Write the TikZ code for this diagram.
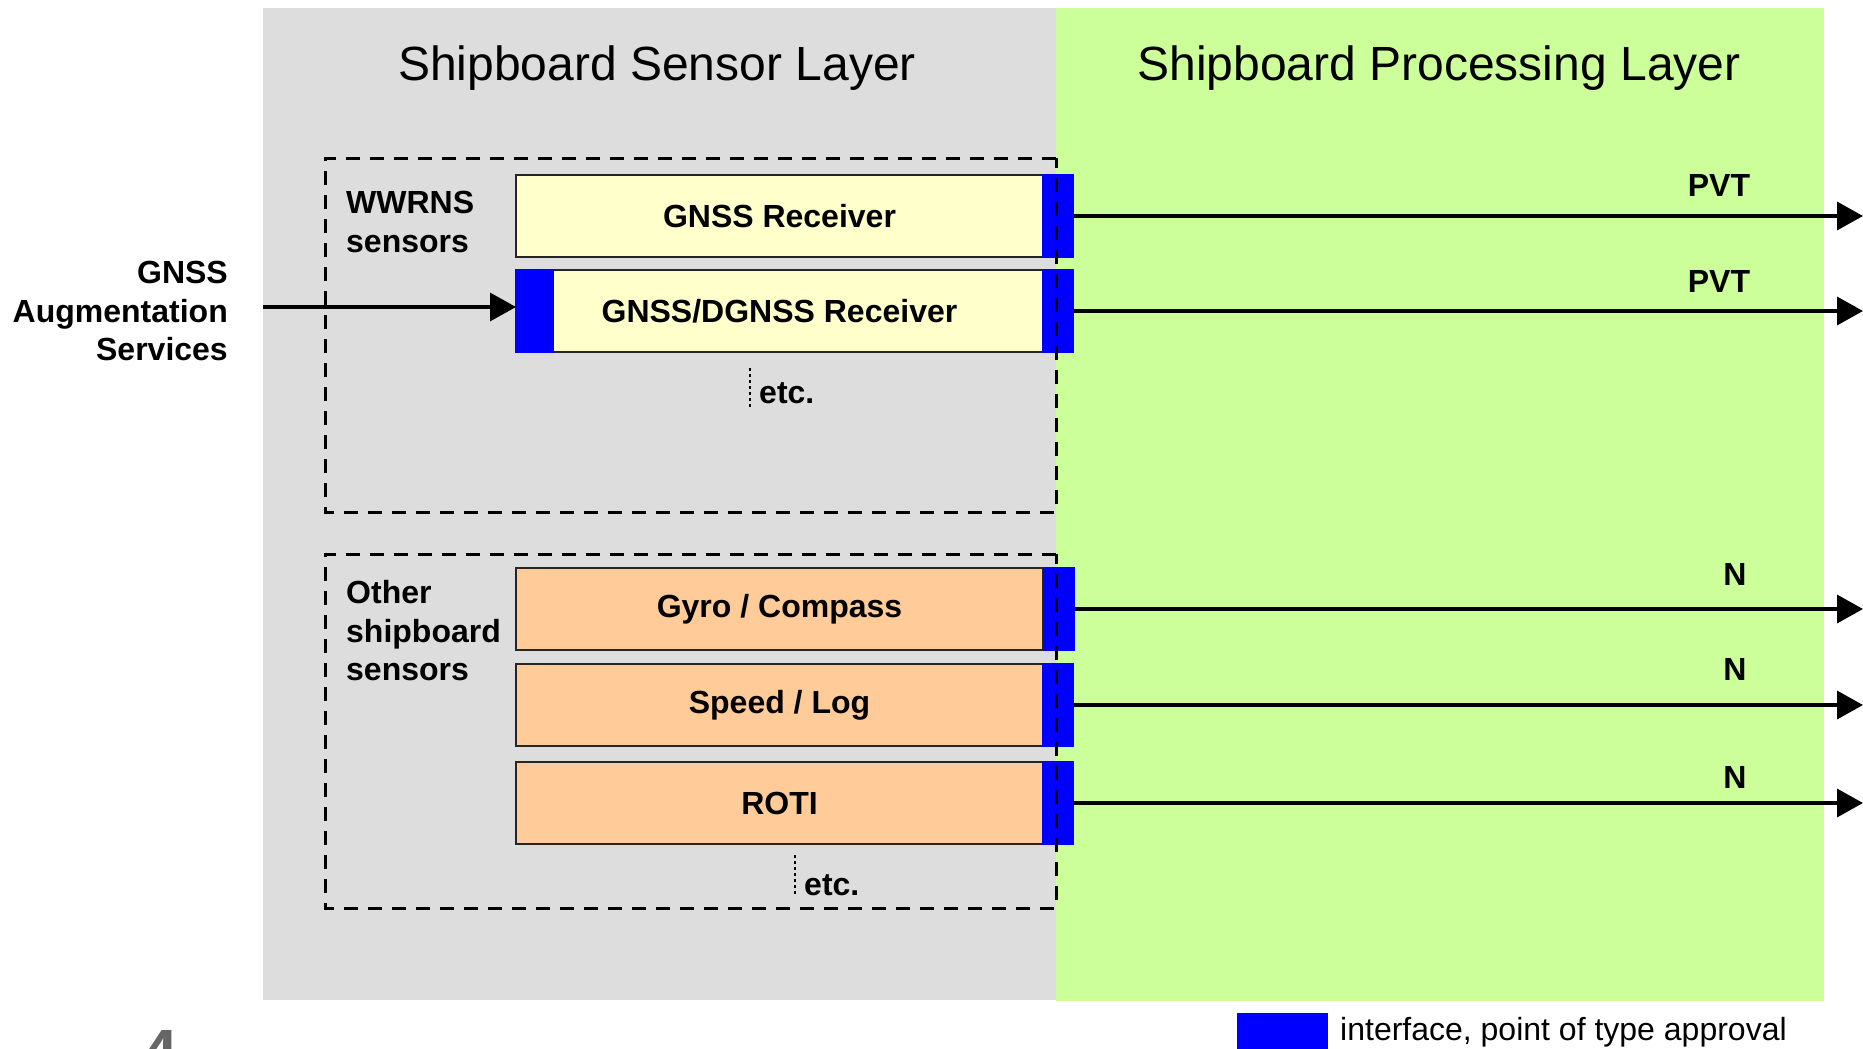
\documentclass[tikz,border=0pt]{standalone}
\usepackage{fontspec}
\setmainfont{Liberation Sans}
\usetikzlibrary{arrows.meta}
\definecolor{sensorgrey}{HTML}{DDDDDD}
\definecolor{procgreen}{HTML}{CCFF99}
\definecolor{wwrnsfill}{HTML}{FFFFCC}
\definecolor{otherfill}{HTML}{FFCC99}
\definecolor{ifblue}{HTML}{0000FF}

\begin{document}
\begin{tikzpicture}[x=1pt,y=-1pt,
  lbl/.style={font=\fontsize{32}{38.5}\selectfont\bfseries, inner sep=0pt},
  layertitle/.style={font=\fontsize{48}{56}\selectfont, inner sep=0pt},
  sensorbox/.style={draw=black!85, line width=2pt, minimum width=527pt,
    minimum height=82pt, anchor=north west, inner sep=0pt, outer sep=0pt,
    font=\fontsize{32}{38}\selectfont\bfseries},
  ybox/.style={sensorbox, fill=wwrnsfill},
  obox/.style={sensorbox, fill=otherfill},
  iface/.style={fill=ifblue, draw=none, inner sep=0pt, outer sep=0pt,
    minimum width=32pt, minimum height=84pt, anchor=north west},
  group/.style={draw=black, line width=3pt, dash pattern=on 14pt off 10pt},
  flow/.style={line width=3.5pt, -{Triangle[length=26pt,width=28pt]}},
  etcline/.style={line width=2.5pt, dash pattern=on 3pt off 3pt},
]
\useasboundingbox (0,0) rectangle (1863,1049);
\fill[white] (0,0) rectangle (1863,1049);

% layer backgrounds
\fill[sensorgrey] (263,8) rectangle (1056,1000);
\fill[procgreen] (1056,8) rectangle (1824,1001);

% layer titles
\node[layertitle] (senstitle) at (657,68) {Shipboard Sensor Layer};
\node[layertitle] (proctitle) at (1439,68) {Shipboard Processing Layer};

% WWRNS sensors
\node[ybox] (gnss) at (516,175) {GNSS Receiver};
\node[ybox] (dgnss) at (516,270) {GNSS/DGNSS Receiver};
\node[iface] (gnssif) at (1042,174) {};
\node[iface] (dgnssif) at (1042,269) {};
\node[iface, minimum width=39pt] (dgnssin) at (515,269) {};

% other shipboard sensors
\node[obox] (gyro) at (516,568) {Gyro / Compass};
\node[obox] (speed) at (516,664) {Speed / Log};
\node[obox] (roti) at (516,762) {ROTI};
\node[iface] (gyroif) at (1043,567) {};
\node[iface] (speedif) at (1042,663) {};
\node[iface] (rotiif) at (1042,761) {};

% sensor groups
\draw[group] (1056,158) -- (325,158) -- (325,512) -- (1056,512) -- cycle;
\draw[group] (1056,554) -- (325,554) -- (325,908) -- (1056,908) -- cycle;
\node[lbl, anchor=west, align=left] (wwrns) at (346,222) {WWRNS\\sensors};
\node[lbl, anchor=west, align=left] (other) at (346,631) {Other\\shipboard\\sensors};

% etc. marks
\draw[etcline] (750,368) -- (750,408);
\node[lbl, anchor=west] (etca) at (759,393) {etc.};
\draw[etcline] (795,855) -- (795,894);
\node[lbl, anchor=west] (etcb) at (804,885) {etc.};

% augmentation input
\node[lbl, anchor=east, align=right] (aug) at (228,311) {GNSS\\Augmentation\\Services};
\coordinate (augstart) at (263,307);
\draw[flow] (augstart) -- (augstart -| dgnss.west);

% outputs
\coordinate (rim) at (1863,0);
\draw[flow] (gnssif.east) -- (gnssif.east -| rim);
\draw[flow] (dgnssif.east) -- (dgnssif.east -| rim);
\draw[flow] (gyroif.east) -- (gyroif.east -| rim);
\draw[flow] (speedif.east) -- (speedif.east -| rim);
\draw[flow] (rotiif.east) -- (rotiif.east -| rim);
\node[lbl] (pvta) at (1719,185) {PVT};
\node[lbl] (pvtb) at (1719,281) {PVT};
\node[lbl] (na) at (1735,574) {N};
\node[lbl] (nb) at (1735,669) {N};
\node[lbl] (nc) at (1735,777) {N};

% legend
\node[fill=ifblue, inner sep=0pt, minimum width=91pt, minimum height=42pt,
  anchor=north west] (legbox) at (1237,1013) {};
\node[anchor=west, inner sep=0pt, font=\fontsize{32}{38}\selectfont]
  (legtext) at (1340,1032) {interface, point of type approval};

% page mark
\node[anchor=north, inner sep=0pt, text=black!60,
  font=\fontsize{64}{64}\selectfont\bfseries] (pagemark) at (160,1030) {4};
\end{tikzpicture}
\end{document}
